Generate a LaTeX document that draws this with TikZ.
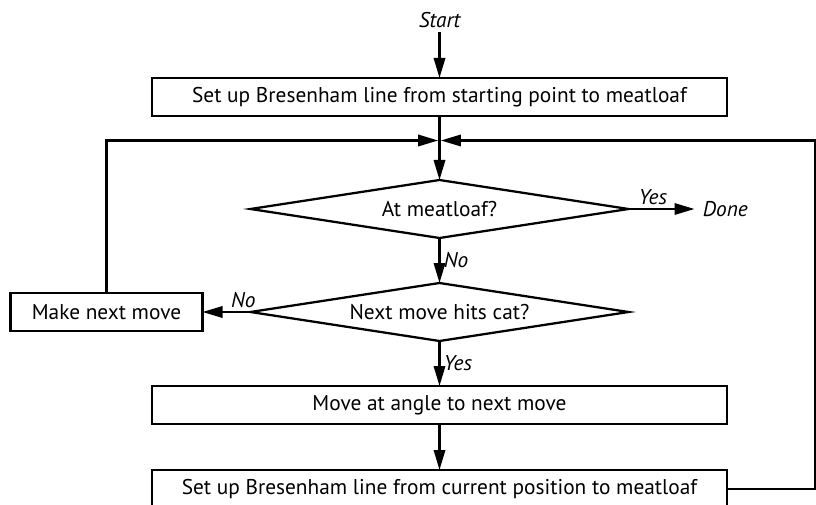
\documentclass[tikz,border=0pt]{standalone}
\usepackage{fontspec}
\setmainfont{PT Sans}
\usepackage{tikz}
\usetikzlibrary{shapes.geometric, arrows.meta, positioning}

\begin{document}
\begin{tikzpicture}[x=0.75pt, y=-0.75pt, line width=1.7pt,
  every node/.style={font=\fontsize{16}{19}\selectfont, outer sep=0pt},
  stepbox/.style={rectangle, draw, minimum width=431pt, minimum height=28.5pt, inner sep=0pt},
  decision/.style={diamond, draw, aspect=6.5, minimum width=283.5pt, minimum height=43.5pt, inner sep=0pt},
  lbl/.style={font=\fontsize{16}{19}\selectfont\itshape},
  arrow/.style={-{Triangle[length=15pt, width=8.5pt]}}]
\clip (0,0) rectangle (816,505);
\useasboundingbox (0,0) rectangle (816,505);

\node[stepbox] (setup) at (439.5,97) {Set up Bresenham line from starting point to meatloaf};
\node[lbl, above=34.5pt of setup] (start) {Start};
\node[decision, below=48pt of setup] (atloaf) {At meatloaf?};
\node[decision, below=33.75pt of atloaf] (hitcat) {Next move hits cat?};
\node[stepbox, minimum width=144pt, left=36pt of hitcat] (makemove) {Make next move};
\node[stepbox, below=33.75pt of hitcat] (angle) {Move at angle to next move};
\node[stepbox, below=34.5pt of angle] (setupcur) {Set up Bresenham line from current position to meatloaf};
\node[lbl, right=52.5pt of atloaf] (done) {Done};

\coordinate (merge) at (setup.south |- 0,140.5);
\coordinate (rtop) at (815,140.5);

\draw[arrow] (start) -- (setup);
\draw[arrow] (setup) -- (atloaf);
\draw[arrow, shorten >=3pt] (atloaf) -- node[lbl, above, pos=0.35] {Yes} (done);
\draw[arrow] (atloaf) -- node[lbl, right] {No} (hitcat);
\draw[arrow] (hitcat) -- node[lbl, above, pos=0.15] {No} (makemove);
\draw[arrow] (hitcat) -- node[lbl, right] {Yes} (angle);
\draw[arrow] (angle) -- (setupcur);
\draw[arrow, shorten >=1pt] (makemove.north) |- (merge);
\draw[arrow, shorten >=1pt] (setupcur.east) -| (rtop) -- (merge);
\end{tikzpicture}
\end{document}
